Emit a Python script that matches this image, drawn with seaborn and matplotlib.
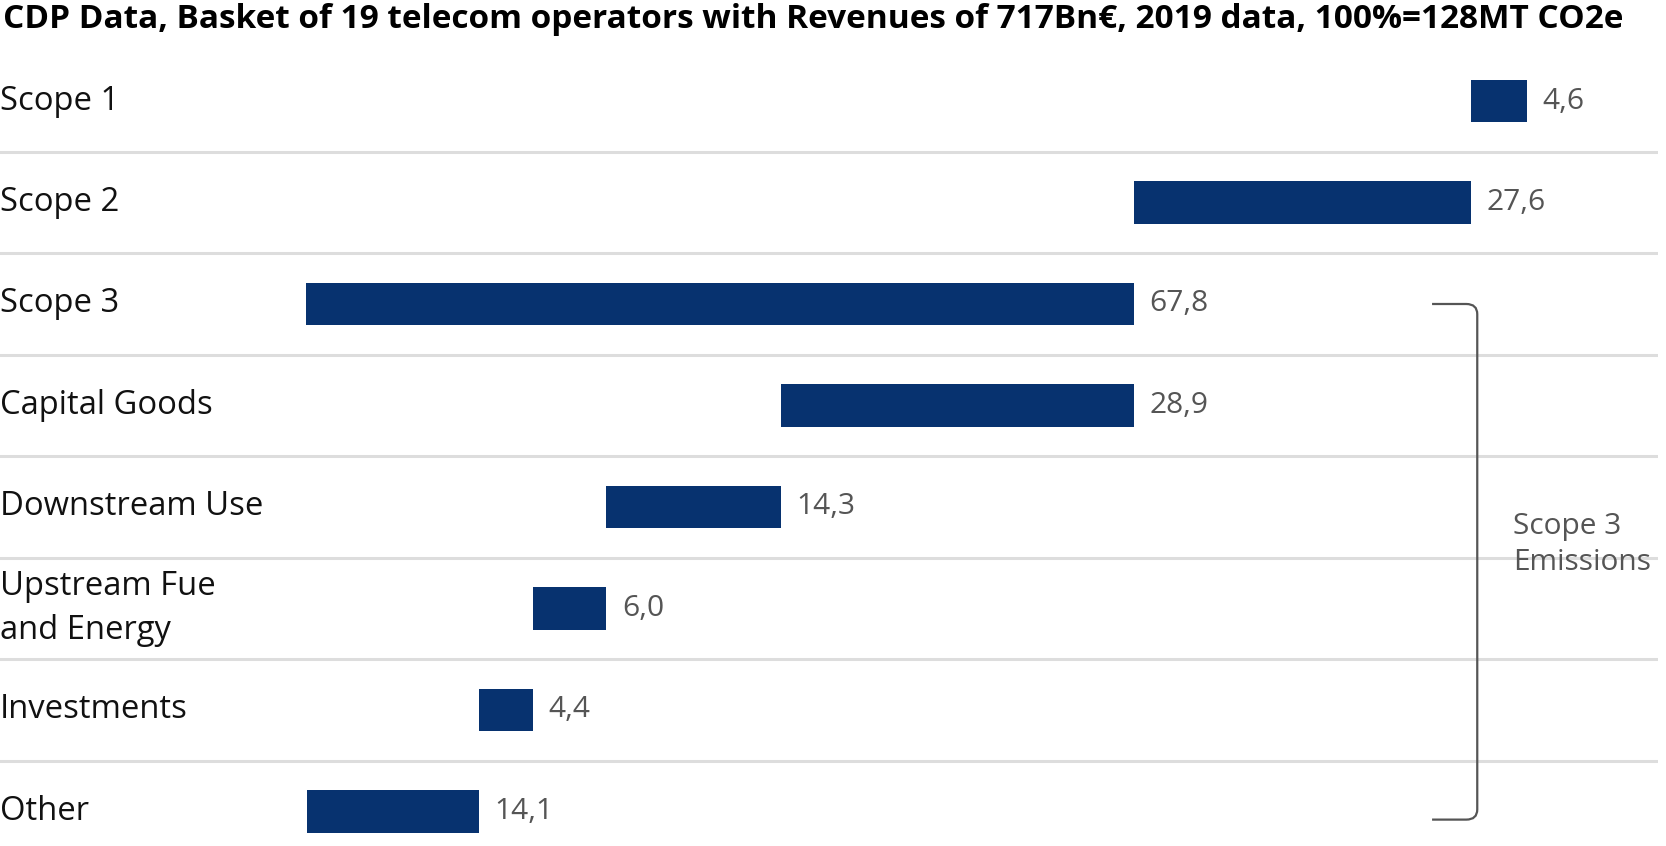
import numpy as np
import pandas as pd
import seaborn as sns
import matplotlib.pyplot as plt
from matplotlib.path import Path
from matplotlib.patches import PathPatch
import matplotlib.transforms as mtransforms

# dados (MT CO2e em %, total = 100)
categorias = ["Scope 1", "Scope 2", "Scope 3", "Capital Goods", "Downstream Use",
              "Upstream Fue\nand Energy", "Investments", "Other"]
valores = [4.6, 27.6, 67.8, 28.9, 14.3, 6.0, 4.4, 14.1]
rotulos = ["4,6", "27,6", "67,8", "28,9", "14,3", "6,0", "4,4", "14,1"]
titulo = "CDP Data, Basket of 19 telecom operators with Revenues of 717Bn€, 2019 data, 100%=128MT CO2e"

# inicio de cada barra (cascata)
inicio = [valores[2] + valores[1], valores[2], 0.0]
fim = valores[2]
for v in valores[3:]:
    fim = round(fim - v, 1)
    inicio.append(fim)

df = pd.DataFrame({"categoria": categorias, "valor": valores, "inicio": inicio})

sns.set_theme(style="white")
plt.rcParams["font.family"] = ["Open Sans", "DejaVu Sans"]

AZUL = "#07326f"
CINZA = "#555555"

fig = plt.figure(figsize=(16.66, 8.46), dpi=100)
ax = fig.add_axes([0, 0, 0.9952, 0.9406])

sns.barplot(data=df, x="valor", y="categoria", left=df["inicio"], orient="h",
            color=AZUL, saturation=1, width=0.42, linewidth=0, ax=ax)

# linhas separadoras
for i in range(len(categorias) - 1):
    ax.axhline(i + 0.5, color="#dddddd", lw=2.2, zorder=0)

ax.set_xlim(-25.06, 110.7)
ax.set_ylim(7.34, -0.5)
ax.set(xticks=[], yticks=[], xlabel="", ylabel="")
sns.despine(ax=ax, left=True, bottom=True)

# nomes das categorias
trans = mtransforms.blended_transform_factory(ax.transAxes, ax.transData)
for i, nome in enumerate(categorias):
    ax.text(0.0, i, nome, transform=trans, ha="left", va="center",
            fontsize=23.6, color="#111111", linespacing=1.42)

# valores
for i, (ini, v, r) in enumerate(zip(inicio, valores, rotulos)):
    ax.annotate(r, (ini + v, i), xytext=(11, 0), textcoords="offset points",
                ha="left", va="center", fontsize=21.5, color=CINZA)

# chave do Scope 3
xb, x0, rx, ry = 95.9, 92.2, 0.9, 0.1
y_top, y_bot = 2, 7.08
verts = [(x0, y_top), (xb - rx, y_top), (xb, y_top), (xb, y_top + ry),
         (xb, y_bot - ry), (xb, y_bot), (xb - rx, y_bot), (x0, y_bot)]
codes = [Path.MOVETO, Path.LINETO, Path.CURVE3, Path.CURVE3,
         Path.LINETO, Path.CURVE3, Path.CURVE3, Path.LINETO]
ax.add_patch(PathPatch(Path(verts, codes), fill=False, edgecolor=CINZA, lw=1.6))
ax.text(98.85, 4.37, "Scope 3\nEmissions", ha="left", va="center",
        fontsize=21.5, color=CINZA, linespacing=1.3)

fig.text(0.002, 1 - 20 / 846, titulo, ha="left", va="center",
         fontsize=24, fontweight="bold", color="#000000")

fig.savefig("out.png", dpi=100)
